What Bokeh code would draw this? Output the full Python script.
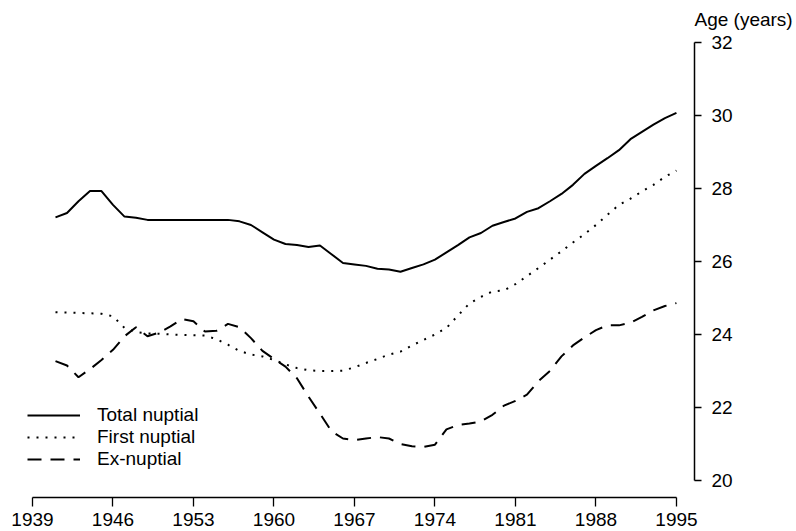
from bokeh.plotting import figure
from bokeh.models import Range1d, FixedTicker, Legend, LegendItem, Title
from bokeh.embed import file_html
from bokeh.resources import INLINE

years = list(range(1941, 1996))

total_nuptial = [27.21, 27.33, 27.65, 27.93, 27.93, 27.55, 27.23, 27.20, 27.14, 27.14,
                 27.14, 27.14, 27.14, 27.14, 27.14, 27.14, 27.10, 27.00, 26.80, 26.60,
                 26.48, 26.45, 26.40, 26.44, 26.20, 25.96, 25.92, 25.88, 25.80, 25.78,
                 25.72, 25.82, 25.92, 26.05, 26.25, 26.45, 26.66, 26.78, 26.98, 27.08,
                 27.18, 27.36, 27.46, 27.65, 27.85, 28.10, 28.40, 28.62, 28.83, 29.05,
                 29.35, 29.55, 29.75, 29.93, 30.07]

first_nuptial = [24.61, 24.60, 24.59, 24.58, 24.57, 24.50, 24.18, 24.07, 24.03, 24.02,
                 24.00, 23.99, 23.98, 23.97, 23.87, 23.72, 23.55, 23.45, 23.40, 23.30,
                 23.18, 23.08, 23.02, 23.00, 23.00, 23.01, 23.10, 23.22, 23.33, 23.45,
                 23.53, 23.70, 23.85, 24.00, 24.18, 24.52, 24.85, 25.03, 25.18, 25.21,
                 25.38, 25.60, 25.82, 26.05, 26.28, 26.52, 26.75, 27.00, 27.28, 27.55,
                 27.72, 27.92, 28.10, 28.32, 28.49]

ex_nuptial = [23.27, 23.15, 22.83, 23.05, 23.30, 23.58, 23.95, 24.20, 23.95, 24.05,
              24.22, 24.42, 24.36, 24.08, 24.10, 24.29, 24.20, 23.90, 23.55, 23.33,
              23.12, 22.80, 22.30, 21.83, 21.35, 21.15, 21.11, 21.15, 21.19, 21.15,
              21.00, 20.94, 20.92, 20.98, 21.40, 21.52, 21.56, 21.62, 21.80, 22.05,
              22.18, 22.35, 22.72, 23.00, 23.40, 23.70, 23.92, 24.12, 24.25, 24.25,
              24.32, 24.48, 24.66, 24.78, 24.86]

x_ticks = [1939, 1946, 1953, 1960, 1967, 1974, 1981, 1988, 1995]
y_ticks = [20, 22, 24, 26, 28, 30, 32]

FONT = "Liberation Sans"

x_start, x_end = 1937.957, 1996.57
y_start, y_end = 19.534, 32.219

p = figure(width=796, height=531, output_backend="svg", toolbar_location=None,
           x_range=Range1d(x_start, x_end), y_range=Range1d(y_start, y_end),
           y_axis_location="right",
           min_border_left=20, min_border_right=102, min_border_top=34, min_border_bottom=34)
p.outline_line_color = None
p.grid.visible = False
p.background_fill_color = "white"
p.border_fill_color = "white"

r_total = p.line(years, total_nuptial, line_color="black", line_width=2)
r_first = p.line(years, first_nuptial, line_color="black", line_width=2, line_dash="2 7")
r_ex = p.line(years, ex_nuptial, line_color="black", line_width=2, line_dash="14 9")

xa = p.xaxis[0]
xa.ticker = FixedTicker(ticks=x_ticks)
xa.bounds = (x_ticks[0], x_ticks[-1])
xa.major_tick_out = 9
xa.major_tick_in = 0
xa.minor_tick_out = 0
xa.minor_tick_in = 0
xa.axis_line_width = 1.5
xa.major_tick_line_width = 1.3
xa.major_label_standoff = 6
xa.major_label_text_font = FONT
xa.major_label_text_font_size = "19px"
xa.major_label_text_color = "black"

ya = p.yaxis[0]
ya.ticker = FixedTicker(ticks=y_ticks)
ya.bounds = (y_ticks[0], y_ticks[-1])
ya.major_tick_out = 7
ya.major_tick_in = 0
ya.minor_tick_out = 0
ya.minor_tick_in = 0
ya.axis_line_width = 1.5
ya.major_tick_line_width = 1.3
ya.major_label_standoff = 10
ya.major_label_text_font = FONT
ya.major_label_text_font_size = "19px"
ya.major_label_text_color = "black"

legend = Legend(items=[LegendItem(label="Total nuptial", renderers=[r_total]),
                       LegendItem(label="First nuptial", renderers=[r_first]),
                       LegendItem(label="Ex-nuptial", renderers=[r_ex])],
                location=(7, 27), orientation="vertical")
legend.glyph_width = 53
legend.glyph_height = 22
legend.label_height = 22
legend.label_standoff = 17
legend.spacing = 0
legend.padding = 0
legend.margin = 0
legend.border_line_color = None
legend.background_fill_alpha = 0
legend.label_text_font = FONT
legend.label_text_font_size = "19px"
legend.label_text_color = "black"
p.add_layout(legend)

title = Title(text="Age (years)", align="left", offset=674, text_font=FONT,
              text_font_size="19px", text_font_style="normal", text_color="black",
              standoff=10)
p.add_layout(title, "above")

open("out.html", "w").write(file_html(p, INLINE))
